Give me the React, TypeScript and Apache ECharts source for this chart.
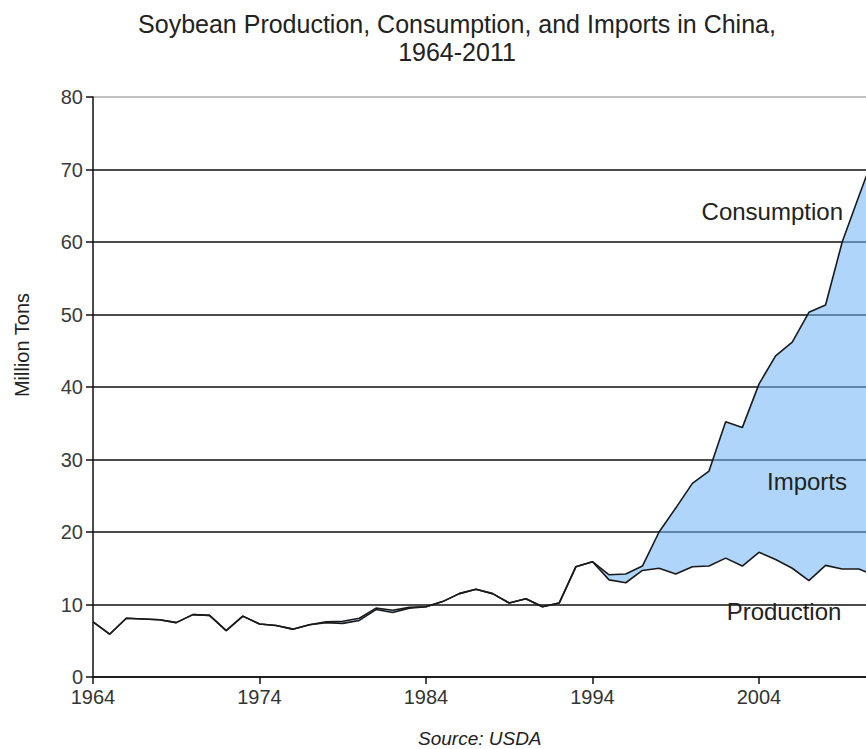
import React, { useEffect, useRef } from "react";
import * as echarts from "echarts";

const years: string[] = [];
for (let y = 1964; y <= 2011; y++) years.push(String(y));

const production = [
  7.6, 5.9, 8.1, 8.0, 7.9, 7.5, 8.6, 8.5, 6.4, 8.4,
  7.3, 7.1, 6.6, 7.2, 7.5, 7.4, 7.8, 9.3, 8.9, 9.5,
  9.7, 10.4, 11.5, 12.1, 11.5, 10.2, 10.8, 9.7, 10.2, 15.2,
  15.9, 13.4, 13.0, 14.7, 15.0, 14.2, 15.2, 15.3, 16.4, 15.3,
  17.2, 16.2, 15.0, 13.3, 15.4, 14.9, 14.9, 14.0,
];

const consumption = [
  7.6, 5.9, 8.1, 8.0, 7.9, 7.5, 8.6, 8.5, 6.4, 8.4,
  7.3, 7.1, 6.6, 7.2, 7.6, 7.7, 8.1, 9.5, 9.2, 9.6,
  9.7, 10.4, 11.5, 12.1, 11.5, 10.2, 10.8, 9.7, 10.2, 15.2,
  15.9, 14.1, 14.2, 15.3, 20.0, 23.3, 26.7, 28.4, 35.2, 34.4,
  40.4, 44.3, 46.2, 50.3, 51.3, 60.0, 66.3, 72.5,
];

const yTicks = [0, 10, 20, 30, 40, 50, 60, 70, 80];

const titleText = "Soybean Production, Consumption, and Imports in China,\n1964-2011";
const sourceText = "Source: USDA";
const yName = "Million Tons";

export default function App() {
  const ref = useRef<HTMLDivElement>(null);
  useEffect(() => {
    document.body.style.margin = "0";
    if (!ref.current) return;
    const chart = echarts.init(ref.current, undefined, { renderer: "svg" });
    const imports = consumption.map((c, i) => Math.max(0, +(c - production[i]).toFixed(2)));
    const font = "Liberation Sans";
    const option: any = {
      animation: false,
      backgroundColor: "#ffffff",
      textStyle: { fontFamily: font },
      title: {
        text: titleText,
        left: 452,
        top: 5,
        textAlign: "center",
        textStyle: { fontSize: 25, fontWeight: "normal", color: "#222", lineHeight: 28, fontFamily: font },
      },
      grid: { left: 93, top: 97, width: 782.5, height: 580, outerBoundsMode: "none", containLabel: false },
      xAxis: {
        type: "category",
        data: years,
        boundaryGap: false,
        axisLine: { lineStyle: { color: "#111", width: 1.5 } },
        axisTick: { show: true, interval: 9, length: 7, lineStyle: { color: "#111", width: 1.5 } },
        axisLabel: { interval: 9, fontSize: 20, color: "#333", margin: 10, fontFamily: font },
        splitLine: { show: false },
      },
      yAxis: {
        type: "value",
        min: yTicks[0],
        max: yTicks[yTicks.length - 1],
        interval: 10,
        axisLine: { show: true, lineStyle: { color: "#111", width: 1.5 } },
        axisTick: { show: true, length: 7, lineStyle: { color: "#111", width: 1.5 } },
        axisLabel: { fontSize: 20, color: "#3a3a3a", margin: 10, fontFamily: font },
        splitLine: {
          show: true,
          lineStyle: {
            color: ["#111", "#111", "#111", "#111", "#111", "#111", "#111", "#111", "#aaa"],
            width: 1.5,
          },
        },
      },
      graphic: [
        {
          type: "text",
          x: 22,
          y: 345,
          z: 100,
          rotation: Math.PI / 2,
          style: { text: yName, fill: "#222", font: `20px "${font}"`, textAlign: "center", textVerticalAlign: "middle" },
        },
        {
          type: "text",
          x: 418,
          y: 738,
          z: 100,
          style: { text: sourceText, fill: "#222", font: `italic 19px "${font}"`, textAlign: "left", textVerticalAlign: "middle" },
        },
        {
          type: "text",
          x: 843,
          y: 211,
          z: 100,
          style: { text: "Consumption", fill: "#222", font: `24px "${font}"`, textAlign: "right", textVerticalAlign: "middle" },
        },
        {
          type: "text",
          x: 807,
          y: 481,
          z: 100,
          style: { text: "Imports", fill: "#222", font: `24px "${font}"`, textAlign: "center", textVerticalAlign: "middle" },
        },
        {
          type: "text",
          x: 784,
          y: 611,
          z: 100,
          style: { text: "Production", fill: "#222", font: `24px "${font}"`, textAlign: "center", textVerticalAlign: "middle" },
        },
      ],
      series: [
        {
          name: "base",
          type: "line",
          stack: "imp",
          data: production,
          symbol: "none",
          lineStyle: { opacity: 0 },
          silent: true,
          z: 1,
        },
        {
          name: "Imports",
          type: "line",
          stack: "imp",
          data: imports,
          symbol: "none",
          lineStyle: { opacity: 0 },
          areaStyle: { color: "rgba(110,180,245,0.55)", opacity: 1 },
          silent: true,
          z: 1,
        },
        {
          name: "Production",
          type: "line",
          data: production,
          symbol: "none",
          lineStyle: { color: "#1a1a1a", width: 1.6 },
          z: 3,
        },
        {
          name: "Consumption",
          type: "line",
          data: consumption,
          symbol: "none",
          lineStyle: { color: "#1a1a1a", width: 1.6 },
          z: 3,
        },
      ],
    };
    chart.setOption(option);
    return () => chart.dispose();
  }, []);
  return <div ref={ref} style={{ width: 866, height: 749 }} />;
}
